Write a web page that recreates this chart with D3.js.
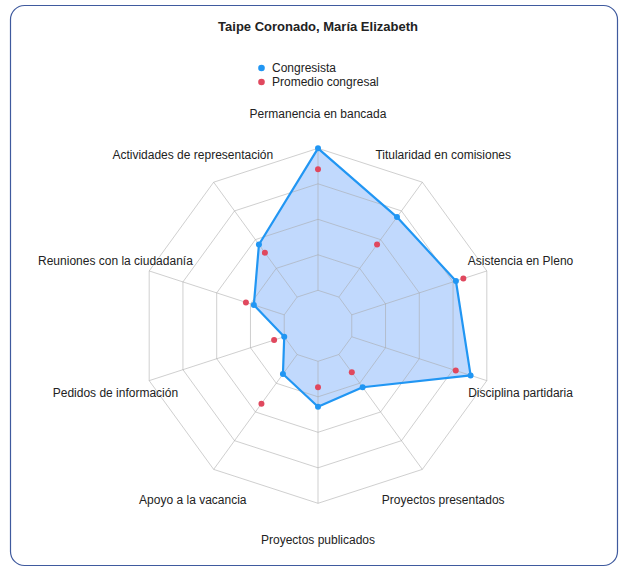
<!DOCTYPE html>
<html lang="es">
<head>
    <meta charset="utf-8">
    <title>Radar congresista</title>
    <script src="https://d3js.org/d3.v7.min.js"></script>
    <style>
        body { margin: 0; background: #fff; font-family: "Liberation Sans", Arial, sans-serif; }
        text { fill: #222; }
    </style>
</head>
<body>
<svg id="chart"></svg>
<script>
    const titulo = "Taipe Coronado, María Elizabeth";
    const ejes = ["Permanencia en bancada", "Titularidad en comisiones", "Asistencia en Pleno",
        "Disciplina partidaria", "Proyectos presentados", "Proyectos publicados",
        "Apoyo a la vacancia", "Pedidos de información", "Reuniones con la ciudadanía",
        "Actividades de representación"];
    const congresista = [100, 75.7, 81.7, 90.4, 42.8, 45.6, 33.6, 20, 38, 56.6];
    const promedio = [88.2, 56.6, 86.1, 81.6, 32.4, 34.6, 54.2, 26, 42.7, 50.9];
    const niveles = [20, 40, 60, 80, 100];
    const series = [
        {name: "Congresista", color: "#2196F3"},
        {name: "Promedio congresal", color: "#E0485E"}
    ];

    const width = 621, height = 567;
    const cx = 318, cy = 325.8, R = 177.5;

    let svg = d3.select("#chart").attr("width", width).attr("height", height);

    svg.append("rect")
        .attr("x", 10.5).attr("y", 5.5)
        .attr("width", 607).attr("height", 560)
        .attr("rx", 14)
        .attr("fill", "#fff")
        .attr("stroke", "#3f5a9e")
        .attr("stroke-width", 1.2);

    svg.append("text")
        .attr("x", cx).attr("y", 31)
        .attr("text-anchor", "middle")
        .style("font-size", "13px").style("font-weight", "bold")
        .text(titulo);

    // legend
    let legend = svg.append("g").attr("transform", "translate(261.5,68)");
    series.forEach((s, i) => {
        let g = legend.append("g").attr("transform", `translate(0,${i * 14})`);
        g.append("circle").attr("r", 3.3).attr("fill", s.color);
        g.append("text").attr("x", 10.5).attr("y", 4.3)
            .style("font-size", "12px").text(s.name);
    });

    let rScale = d3.scaleLinear().domain([0, 100]).range([0, R]);
    let angle = d3.scalePoint().domain(d3.range(ejes.length + 1)).range([0, 2 * Math.PI]);

    function pos(i, v) {
        let a = angle(i);
        return [cx + rScale(v) * Math.sin(a), cy - rScale(v) * Math.cos(a)];
    }

    let chart = svg.append("g");

    // data area (under the grid lines so they show through)
    let area = congresista.map((v, i) => pos(i, v));
    chart.append("path")
        .attr("d", d3.line().curve(d3.curveLinearClosed)(area))
        .attr("fill", "rgb(100,160,250)")
        .attr("fill-opacity", 0.4)
        .attr("stroke", "none");

    // grid: rings + spokes starting at the first ring
    let grid = chart.append("g");
    niveles.forEach(n => {
        grid.append("path")
            .attr("d", d3.line().curve(d3.curveLinearClosed)(ejes.map((e, i) => pos(i, n))))
            .attr("fill", "none")
            .attr("stroke", "#a8a8a8")
            .attr("stroke-opacity", 0.55)
            .attr("stroke-width", 1);
    });
    ejes.forEach((e, i) => {
        let [x1, y1] = pos(i, niveles[0]);
        let [x2, y2] = pos(i, 100);
        grid.append("line")
            .attr("x1", x1).attr("y1", y1).attr("x2", x2).attr("y2", y2)
            .attr("stroke", "#a8a8a8")
            .attr("stroke-opacity", 0.55)
            .attr("stroke-width", 1);
    });

    // data line
    chart.append("path")
        .attr("d", d3.line().curve(d3.curveLinearClosed)(area))
        .attr("fill", "none")
        .attr("stroke", series[0].color)
        .attr("stroke-width", 2.2)
        .attr("stroke-linejoin", "round");

    chart.selectAll(".pc").data(congresista).join("circle")
        .attr("cx", (d, i) => pos(i, d)[0])
        .attr("cy", (d, i) => pos(i, d)[1])
        .attr("r", 3).attr("fill", series[0].color);

    chart.selectAll(".pp").data(promedio).join("circle")
        .attr("cx", (d, i) => pos(i, d)[0])
        .attr("cy", (d, i) => pos(i, d)[1])
        .attr("r", 3).attr("fill", series[1].color);

    // axis labels
    chart.selectAll(".lbl").data(ejes).join("text")
        .attr("x", (d, i) => pos(i, 120)[0])
        .attr("y", (d, i) => pos(i, 120)[1] + 5.5)
        .attr("text-anchor", "middle")
        .style("font-size", "12px")
        .text(d => d);
</script>
</body>
</html>
